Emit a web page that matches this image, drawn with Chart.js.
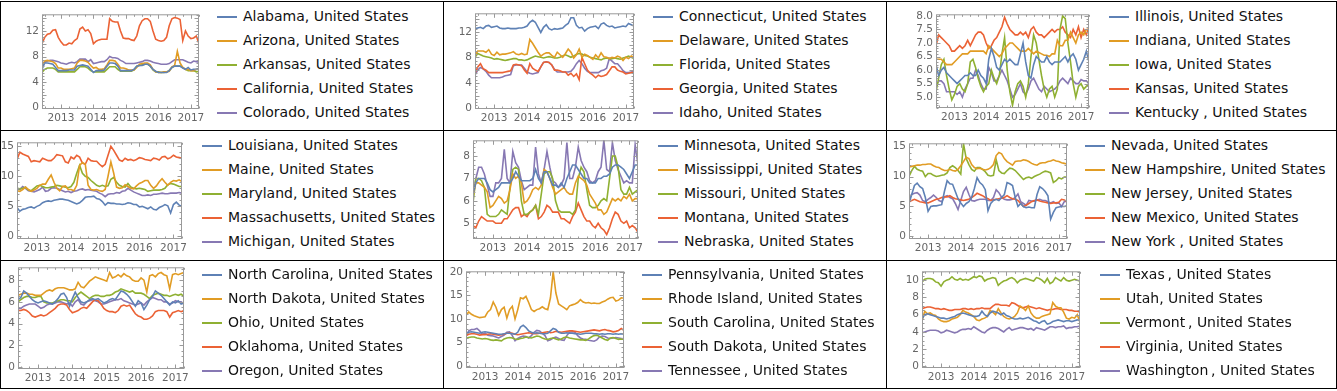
<!DOCTYPE html>
<html lang="en">
<head>
  <meta charset="UTF-8" />
  <title>State series</title>
  <script src="https://cdn.jsdelivr.net/npm/chart.js"></script>
  <style>
    html, body { margin: 0; padding: 0; background: #fff; }
    body { width: 1337px; height: 391px; position: relative; overflow: hidden; font-family: "DejaVu Sans", sans-serif; }
    .grid-line { position: absolute; background: #000; }
    canvas { position: absolute; }
    .key { position: absolute; height: 2px; width: 20px; }
    .lbl { position: absolute; font-size: 14px; line-height: 17px; white-space: nowrap; color: #111; }
  </style>
</head>
<body>
<div id="root"></div>
<script>
// monthly points, June 2012 .. April 2017
const months = [];
for (let i = 0; i < 59; i++) months.push(2012 + (5 + i) / 12);

const alabama = [6.0, 7.0, 7.0, 6.9, 6.8, 6.3, 5.8, 5.8, 5.8, 5.8,
  5.9, 5.9, 5.9, 6.5, 6.6, 6.7, 6.6, 6.5, 6.0, 5.5,
  5.8, 5.8, 5.8, 5.9, 6.5, 7.0, 7.0, 6.9, 6.5, 5.8,
  5.8, 5.8, 5.8, 5.8, 6.0, 6.5, 6.6, 6.6, 6.8, 6.8,
  6.5, 6.0, 5.7, 5.5, 5.5, 5.5, 5.5, 5.8, 6.3, 6.5,
  6.5, 6.5, 6.2, 6.0, 6.3, 5.9, 6.0, 6.0, 6.1];
const arizona = [6.3, 7.3, 7.4, 7.3, 7.2, 6.9, 6.2, 6.2, 6.0, 6.0,
  6.0, 6.1, 6.2, 7.0, 7.4, 7.4, 7.3, 7.1, 6.6, 6.2,
  6.3, 6.0, 6.0, 6.1, 6.7, 7.4, 7.4, 7.3, 6.8, 6.2,
  6.2, 6.1, 5.9, 5.9, 5.9, 6.3, 6.8, 6.9, 7.0, 7.0,
  6.7, 6.0, 5.6, 5.5, 5.5, 5.6, 5.6, 5.7, 6.4, 6.6,
  8.8, 7.0, 6.3, 6.0, 6.0, 5.8, 5.8, 6.0, 6.1];
const arkansas = [5.5, 6.0, 6.2, 6.2, 6.2, 6.0, 5.6, 5.6, 5.6, 5.6,
  5.6, 5.6, 5.6, 6.0, 6.4, 6.4, 6.4, 6.2, 5.8, 5.6,
  5.6, 5.6, 5.6, 5.6, 6.0, 6.4, 6.4, 6.4, 6.0, 5.7,
  5.7, 5.7, 5.7, 5.7, 5.9, 6.5, 6.6, 6.7, 6.8, 6.8,
  6.5, 5.9, 5.6, 5.6, 5.5, 5.5, 5.6, 5.8, 6.3, 6.5,
  6.5, 6.5, 6.3, 6.0, 5.8, 5.8, 5.8, 5.6, 5.7];
const california = [10.0, 11.0, 11.5, 11.6, 12.1, 12.2, 11.0, 10.3, 9.8, 9.8,
  10.1, 10.0, 10.5, 10.8, 12.3, 12.6, 12.0, 12.2, 11.6, 10.0,
  10.4, 10.6, 10.7, 10.7, 10.7, 13.9, 13.5, 13.4, 13.4, 12.0,
  10.9, 10.8, 10.8, 10.6, 10.5, 11.2, 12.8, 13.6, 13.9, 13.9,
  13.5, 12.0, 10.7, 10.5, 10.4, 10.5, 11.0, 12.8, 13.9, 14.1,
  14.0, 13.8, 10.5, 12.0, 11.2, 10.8, 10.9, 11.2, 10.0];
const colorado = [7.0, 7.1, 7.3, 7.4, 7.4, 7.3, 7.2, 7.0, 6.9, 6.8,
  7.0, 7.1, 7.0, 7.2, 7.6, 7.6, 7.6, 7.2, 7.5, 6.9,
  7.0, 7.1, 7.2, 7.2, 7.5, 8.0, 7.8, 7.8, 7.7, 7.4,
  7.2, 6.9, 6.9, 6.9, 6.9, 7.0, 7.1, 7.2, 7.4, 7.4,
  7.3, 7.1, 7.0, 6.9, 6.8, 6.8, 6.8, 6.9, 7.2, 7.5,
  7.5, 7.5, 7.5, 7.3, 7.1, 7.0, 7.3, 7.2, 7.1];

const connecticut = [12.5, 12.6, 12.7, 12.5, 12.9, 13.0, 12.7, 12.8, 12.9, 12.6,
  12.5, 12.5, 12.6, 12.5, 12.5, 12.5, 12.6, 12.6, 12.7, 12.9,
  13.5, 13.8, 13.5, 12.7, 11.9, 12.7, 13.1, 12.5, 12.3, 12.5,
  12.4, 12.5, 12.6, 13.0, 13.3, 14.2, 14.2, 13.0, 12.6, 12.7,
  12.1, 12.5, 12.7, 12.8, 12.9, 12.5, 13.2, 13.4, 13.0, 12.8,
  12.9, 12.6, 12.7, 12.8, 12.9, 12.8, 13.3, 13.1, 12.9];
const delaware = [8.2, 9.0, 9.0, 9.0, 8.8, 9.2, 8.5, 8.3, 8.8, 8.4,
  8.5, 8.5, 8.6, 8.7, 8.9, 8.5, 8.4, 8.6, 8.4, 8.5,
  10.8, 10.2, 9.5, 8.8, 8.2, 8.5, 8.7, 8.7, 8.3, 8.0,
  8.8, 8.4, 8.0, 8.6, 9.3, 8.8, 7.9, 8.4, 9.3, 8.0,
  8.5, 8.3, 8.0, 7.7, 8.4, 7.9, 8.7, 8.1, 8.0, 7.8,
  8.0, 7.9, 8.2, 8.0, 7.5, 8.0, 7.8, 8.2, 8.0];
const florida = [8.0, 8.6, 8.4, 8.2, 8.1, 8.0, 7.9, 7.7, 7.8, 7.7,
  7.6, 7.5, 7.6, 7.7, 7.8, 7.8, 7.6, 7.6, 7.5, 7.6,
  7.8, 8.0, 8.2, 8.1, 8.0, 7.9, 8.0, 8.1, 8.0, 7.9,
  7.9, 8.0, 8.2, 8.4, 8.2, 8.0, 8.2, 8.5, 8.6, 8.5,
  8.3, 8.2, 8.0, 7.9, 7.8, 7.7, 7.6, 7.8, 7.9, 7.8,
  7.8, 7.9, 7.8, 7.7, 7.9, 8.0, 8.2, 8.0, 7.8];
const georgia = [5.5, 6.5, 7.0, 6.2, 6.0, 5.6, 5.6, 5.6, 5.6, 5.6,
  5.6, 5.7, 5.8, 5.9, 6.8, 6.9, 6.8, 6.7, 6.0, 5.5,
  7.0, 6.3, 6.0, 5.8, 6.5, 7.2, 7.3, 7.2, 6.8, 6.0,
  6.0, 5.9, 5.7, 5.7, 5.2, 5.5, 5.0, 5.4, 4.5, 8.0,
  7.0, 6.0, 5.5, 5.2, 4.8, 5.2, 5.0, 5.1, 5.3, 5.9,
  6.5, 6.5, 6.0, 5.8, 5.7, 5.4, 5.5, 5.6, 5.6];
const idaho = [5.2, 6.0, 6.4, 6.2, 5.8, 5.2, 4.8, 4.8, 4.8, 4.8,
  4.9, 5.1, 5.2, 5.3, 6.7, 6.8, 6.8, 6.8, 6.3, 5.7,
  5.5, 5.4, 5.5, 5.6, 6.5, 7.2, 7.3, 7.2, 6.8, 6.1,
  5.7, 5.7, 5.7, 5.7, 5.7, 5.8, 6.3, 7.0, 7.5, 7.0,
  6.3, 5.8, 5.6, 5.6, 5.6, 5.6, 5.9, 6.0, 6.3, 7.8,
  7.4, 7.0, 7.0, 6.5, 5.9, 5.6, 5.6, 5.7, 5.8];

const illinois = [6.2, 5.8, 6.0, 6.1, 5.9, 5.8, 5.7, 5.6, 5.5, 5.6,
  5.7, 5.8, 5.8, 5.9, 5.8, 5.8, 6.0, 5.8, 5.7, 5.5,
  6.4, 6.8, 6.5, 6.1, 6.0, 6.2, 6.4, 6.3, 6.4, 6.3,
  6.2, 6.2, 6.6, 7.0, 6.3, 5.8, 5.7, 6.2, 6.5, 6.4,
  6.3, 6.3, 6.5, 6.3, 6.2, 6.3, 6.3, 6.3, 6.4, 6.5,
  6.3, 6.5, 6.6, 6.4, 6.0, 6.2, 6.4, 6.7, 6.3];
const indiana = [6.4, 6.4, 6.4, 6.3, 6.2, 6.2, 6.2, 6.3, 6.4, 6.5,
  6.6, 6.6, 6.6, 6.7, 6.7, 6.7, 6.7, 6.7, 6.7, 6.6,
  6.9, 6.8, 6.7, 6.6, 6.5, 6.6, 6.8, 6.9, 7.0, 7.0,
  6.9, 6.8, 6.7, 6.7, 6.7, 6.8, 6.7, 6.6, 6.7, 6.65,
  6.6, 6.55, 6.55, 6.5, 6.6, 6.6, 7.1, 6.9, 6.9, 7.1,
  7.1, 7.4, 7.2, 7.0, 7.3, 7.4, 7.3, 7.5, 7.5];
const iowa = [5.2, 5.7, 6.2, 6.4, 5.8, 5.3, 4.9, 5.1, 5.4, 5.5,
  5.3, 5.2, 5.5, 6.3, 6.4, 6.1, 5.7, 5.4, 5.2, 5.4,
  5.5, 6.0, 5.7, 5.5, 5.8, 6.6, 7.2, 6.0, 5.2, 4.7,
  5.2, 5.5, 5.6, 5.4, 5.0, 5.5, 6.5, 7.3, 7.0, 6.4,
  5.8, 5.3, 5.0, 5.3, 5.4, 5.0, 5.3, 7.5, 8.0, 7.9,
  7.0, 6.3, 5.5, 5.0, 5.4, 5.5, 5.3, 5.4, 5.5];
const kansas = [6.9, 7.3, 7.2, 7.1, 7.0, 6.9, 6.7, 6.7, 6.8, 6.9,
  6.8, 6.9, 7.1, 6.9, 7.1, 7.3, 7.4, 7.4, 7.3, 7.0,
  6.8, 6.9, 7.1, 7.2, 7.4, 7.6, 7.95, 7.7, 7.5, 7.4,
  7.3, 7.3, 7.4, 7.3, 7.4, 7.2, 7.5, 7.6, 7.4, 7.3,
  7.3, 7.2, 7.3, 7.4, 7.5, 7.4, 7.5, 7.5, 7.6, 7.4,
  7.3, 7.2, 7.5, 7.3, 7.6, 7.2, 7.5, 7.3, 7.6];
const kentucky = [5.4, 5.6, 5.6, 5.5, 5.2, 5.2, 5.2, 5.2, 5.1, 5.2,
  5.0, 5.3, 5.5, 5.7, 5.7, 6.0, 5.8, 5.5, 5.3, 5.3,
  6.1, 5.9, 5.6, 5.6, 5.8, 6.0, 5.8, 5.6, 5.3, 5.0,
  5.1, 5.3, 5.5, 5.2, 5.1, 5.3, 5.6, 5.7, 5.5, 5.3,
  5.2, 5.4, 5.3, 5.2, 5.25, 5.3, 5.4, 5.6, 5.7, 5.6,
  5.5, 5.7, 5.6, 5.5, 5.5, 5.65, 5.6, 5.6, 5.5];

const louisiana = [4.8, 4.2, 4.5, 4.6, 4.8, 4.9, 4.7, 5.0, 5.2, 5.6,
  5.8, 5.9, 5.8, 6.0, 6.1, 6.2, 6.2, 6.1, 6.0, 5.8,
  5.6, 5.4, 5.6, 6.0, 6.5, 6.6, 6.6, 6.7, 6.3, 6.2,
  5.8, 5.2, 5.6, 5.5, 5.5, 5.4, 5.4, 5.3, 5.4, 5.6,
  5.5, 5.3, 5.3, 4.9, 5.0, 4.8, 4.6, 4.9, 4.5, 4.4,
  4.8, 5.0, 5.3, 5.1, 3.9, 5.3, 5.7, 5.2, 5.0];
const maine = [7.6, 7.5, 7.8, 8.2, 7.8, 7.5, 7.7, 8.0, 8.5, 8.7,
  8.7, 9.5, 10.2, 9.0, 8.0, 7.6, 8.3, 8.4, 7.8, 7.8,
  7.6, 8.5, 11.8, 12.3, 12.0, 8.5, 7.8, 7.7, 7.8, 7.6,
  7.5, 7.8, 10.0, 12.4, 10.5, 8.2, 8.0, 8.1, 8.6, 8.3,
  8.0, 7.9, 8.4, 8.8, 9.0, 9.3, 9.3, 8.5, 8.0, 8.4,
  9.1, 9.6, 9.0, 8.5, 9.0, 9.3, 9.2, 9.4, 9.1];
const maryland = [8.0, 7.9, 8.0, 8.2, 7.7, 7.6, 8.0, 8.4, 8.5, 8.3,
  8.1, 8.1, 8.2, 8.3, 8.5, 8.4, 8.3, 8.2, 8.1, 8.3,
  9.0, 10.5, 11.8, 10.5, 10.0, 9.8, 9.3, 8.9, 8.5, 8.3,
  8.5, 8.3, 8.4, 9.5, 9.8, 9.0, 8.5, 8.3, 8.2, 8.8,
  8.2, 8.0, 7.9, 8.0, 7.9, 7.8, 7.5, 7.6, 7.7, 7.7,
  7.7, 7.8, 8.0, 8.6, 8.8, 8.7, 8.5, 8.3, 8.3];
const massachusetts = [12.8, 14.0, 13.7, 13.5, 13.3, 12.4, 12.6, 12.5, 12.4, 13.0,
  12.8, 12.6, 12.6, 13.0, 13.6, 13.5, 13.4, 12.4, 12.2, 13.2,
  12.9, 13.5, 13.2, 12.2, 12.0, 13.0, 12.6, 12.5, 12.5, 12.0,
  11.6, 12.0, 13.5, 15.0, 14.3, 13.5, 12.7, 12.5, 13.0, 12.7,
  12.8, 12.6, 12.8, 13.1, 13.0, 12.8, 12.7, 12.6, 13.0, 12.9,
  12.7, 13.2, 13.3, 12.9, 13.1, 13.5, 13.2, 13.1, 13.0];
const michigan = [8.0, 7.8, 8.3, 8.0, 7.6, 7.5, 7.4, 7.6, 7.8, 8.2,
  7.5, 7.6, 8.0, 8.1, 8.0, 7.8, 7.6, 7.4, 7.5, 7.3,
  7.5, 7.6, 7.8, 7.9, 7.7, 7.8, 7.7, 7.6, 7.5, 7.2,
  7.0, 6.6, 7.0, 7.1, 7.1, 7.3, 7.2, 7.5, 7.6, 8.0,
  7.7, 7.4, 7.2, 7.0, 6.8, 6.8, 6.9, 6.8, 7.0, 7.0,
  7.1, 7.2, 7.1, 7.1, 7.2, 7.2, 7.2, 7.3, 7.2];

const minnesota = [6.3, 6.8, 7.0, 7.0, 7.0, 6.8, 6.5, 6.4, 6.5, 6.6,
  6.8, 6.8, 6.8, 6.8, 7.0, 7.3, 7.1, 6.9, 6.9, 6.9,
  6.9, 7.0, 7.4, 7.0, 6.8, 7.3, 7.3, 7.0, 6.7, 6.7,
  6.6, 6.8, 6.6, 7.0, 7.3, 7.6, 7.6, 7.4, 7.2, 7.0,
  7.0, 6.8, 6.8, 6.8, 7.0, 7.0, 7.1, 7.1, 7.2, 7.5,
  7.6, 7.6, 7.5, 7.4, 7.2, 7.0, 7.3, 7.6, 7.6];
const mississippi = [6.2, 6.8, 6.8, 6.7, 6.6, 6.4, 5.7, 5.8, 6.0, 6.2,
  6.1, 5.9, 6.0, 6.5, 7.2, 7.0, 7.1, 6.8, 5.9, 6.0,
  6.2, 6.5, 6.6, 6.5, 6.7, 7.4, 7.3, 7.0, 6.6, 6.3,
  6.4, 6.5, 6.6, 6.4, 6.3, 6.3, 6.8, 7.1, 7.0, 6.9,
  6.7, 6.3, 6.1, 5.9, 5.6, 5.6, 5.4, 5.5, 5.8, 6.1,
  6.0, 6.1, 6.0, 6.2, 6.1, 6.3, 6.0, 6.1, 6.1];
const missouri = [5.9, 7.0, 7.0, 6.9, 6.6, 5.4, 5.3, 5.3, 5.3, 5.4,
  5.6, 5.5, 5.4, 6.6, 7.4, 7.5, 7.4, 6.0, 5.4, 5.4,
  5.5, 5.6, 5.8, 5.4, 6.3, 7.2, 7.3, 7.3, 7.0, 6.0,
  5.6, 5.5, 5.5, 5.5, 5.5, 5.4, 5.6, 7.0, 7.5, 7.3,
  6.5, 5.8, 5.7, 5.7, 5.8, 6.0, 6.1, 6.0, 7.0, 8.0,
  8.0, 7.5, 6.5, 6.3, 6.3, 6.6, 6.3, 6.4, 6.5];
const montana = [4.9, 4.8, 5.1, 5.3, 5.2, 5.1, 5.1, 5.1, 5.0, 5.0,
  5.0, 5.2, 5.2, 5.4, 5.6, 5.7, 5.7, 5.3, 5.4, 5.3,
  5.5, 5.6, 5.8, 5.2, 5.3, 5.5, 5.8, 5.7, 5.5, 5.5,
  5.5, 5.2, 5.2, 5.1, 5.0, 5.3, 5.5, 5.9, 5.6, 5.3,
  5.1, 5.1, 4.9, 4.8, 5.0, 4.8, 4.7, 4.5, 4.8, 5.2,
  5.5, 5.4, 5.1, 5.0, 5.1, 4.8, 4.9, 4.8, 4.6];
const nebraska = [6.3, 7.0, 7.5, 7.5, 7.2, 6.7, 6.2, 6.2, 6.8, 6.8,
  7.0, 8.3, 7.0, 6.8, 8.2, 7.7, 7.5, 6.9, 6.5, 6.6,
  6.7, 6.7, 8.4, 7.2, 6.8, 7.4, 8.2, 7.5, 6.9, 6.8,
  6.6, 6.7, 7.0, 8.6, 7.0, 7.0, 7.5, 8.4, 7.8, 7.5,
  7.3, 6.9, 6.8, 6.9, 7.3, 7.5, 8.7, 7.4, 7.3, 8.6,
  7.8, 7.4, 7.1, 6.8, 6.9, 6.8, 6.8, 8.5, 7.6];

const nevada = [5.5, 7.0, 8.5, 8.9, 8.3, 8.0, 6.5, 4.2, 5.0, 5.1,
  5.1, 5.2, 5.3, 7.5, 9.3, 8.8, 8.7, 7.5, 6.3, 5.6,
  5.0, 5.5, 5.8, 6.5, 8.0, 9.8, 9.0, 8.6, 7.8, 4.3,
  5.5, 6.0, 6.2, 6.0, 6.5, 7.0, 9.0, 8.8, 8.5, 6.5,
  5.0, 5.5, 5.0, 4.8, 4.9, 4.8, 4.8, 7.0, 8.3, 8.0,
  7.5, 6.8, 2.9, 4.0, 4.8, 4.9, 5.0, 5.0, 5.1];
const newHampshire = [11.6, 11.7, 11.8, 11.9, 11.9, 12.0, 12.0, 12.1, 12.1, 11.8,
  11.6, 11.5, 11.2, 11.0, 11.0, 11.2, 11.0, 10.9, 11.2, 11.8,
  12.5, 13.2, 13.0, 12.0, 11.5, 11.3, 11.4, 11.2, 11.1, 11.2,
  11.5, 12.0, 13.5, 14.0, 13.8, 13.0, 12.5, 12.2, 11.9, 12.5,
  12.6, 12.6, 12.8, 12.7, 12.5, 12.2, 12.0, 11.9, 12.2, 12.3,
  12.3, 12.5, 12.6, 12.8, 12.6, 12.5, 12.3, 12.2, 12.1];
const newJersey = [10.0, 11.0, 11.7, 11.2, 11.0, 10.9, 10.0, 10.5, 10.5, 10.2,
  10.0, 10.1, 10.2, 10.3, 10.6, 11.5, 11.8, 11.5, 11.0, 10.4,
  15.5, 13.0, 12.0, 11.2, 10.9, 11.5, 11.5, 11.2, 10.8, 10.2,
  10.1, 10.2, 12.8, 11.0, 10.6, 10.5, 11.0, 11.4, 11.3, 11.0,
  10.5, 10.0, 9.5, 9.8, 9.9, 9.7, 10.0, 10.2, 10.4, 10.7,
  10.9, 10.8, 10.6, 9.0, 9.3, 9.8, 9.6, 9.9, 9.9];
const newMexico = [5.8, 6.0, 6.2, 6.0, 5.8, 5.7, 5.6, 5.6, 5.8, 6.0,
  6.2, 6.3, 6.5, 6.6, 6.6, 6.8, 6.5, 6.3, 6.2, 6.1,
  6.0, 6.1, 6.2, 6.5, 6.8, 7.2, 7.0, 6.8, 6.5, 6.3,
  6.0, 6.1, 6.2, 6.3, 6.4, 6.5, 6.8, 6.5, 6.3, 6.2,
  6.0, 5.5, 5.0, 5.2, 5.5, 5.8, 6.0, 6.1, 5.9, 5.8,
  5.7, 5.6, 5.5, 5.6, 5.6, 5.7, 6.2, 6.1, 5.8];
const newYork = [6.5, 7.0, 7.2, 7.3, 6.9, 6.0, 5.8, 6.2, 6.5, 6.9,
  6.5, 6.0, 5.8, 6.6, 6.8, 6.5, 6.3, 5.5, 4.5, 6.0,
  7.5, 8.2, 7.0, 6.0, 5.9, 6.1, 6.2, 6.2, 6.2, 6.0,
  6.0, 6.5, 7.8, 7.3, 6.5, 6.2, 6.1, 6.1, 6.2, 6.5,
  7.1, 5.8, 5.5, 5.2, 6.0, 5.9, 5.9, 6.1, 6.2, 6.0,
  6.0, 5.8, 5.6, 5.8, 5.5, 5.6, 5.0, 5.8, 5.9];

const northCarolina = [6.2, 6.4, 7.0, 6.8, 6.5, 6.2, 6.0, 5.9, 6.0, 6.1,
  6.0, 5.9, 5.8, 6.0, 6.3, 6.7, 6.8, 6.4, 5.6, 6.3,
  6.9, 6.4, 6.0, 5.9, 6.0, 6.2, 6.3, 6.2, 6.3, 6.1,
  5.9, 6.0, 6.2, 6.3, 6.2, 6.6, 7.0, 6.9, 6.7, 6.4,
  6.0, 5.6, 6.1, 5.9, 5.3, 5.7, 6.2, 6.5, 7.0, 6.8,
  6.6, 6.3, 6.0, 5.7, 6.0, 5.9, 6.1, 5.8, 5.9];
const northDakota = [6.6, 6.7, 6.8, 6.8, 6.7, 6.7, 6.6, 6.6, 6.6, 6.8,
  7.0, 7.1, 7.0, 7.2, 7.3, 7.3, 7.3, 7.2, 7.1, 7.1,
  7.2, 7.8, 7.4, 7.3, 7.6, 7.9, 8.1, 8.3, 8.2, 8.1,
  8.0, 7.9, 8.7, 8.2, 8.3, 8.5, 8.3, 8.6, 8.4, 8.3,
  8.0, 7.9, 7.9, 8.2, 8.0, 6.9, 8.4, 8.5, 8.3, 8.6,
  8.7, 8.5, 8.4, 7.2, 8.5, 8.6, 8.5, 8.6, 8.7];
const ohio = [6.0, 6.2, 6.4, 6.5, 6.5, 6.4, 6.4, 6.5, 6.5, 6.0,
  5.9, 5.9, 5.9, 6.0, 6.1, 6.2, 6.2, 6.1, 6.1, 6.0,
  6.4, 6.7, 6.9, 6.7, 6.5, 6.3, 6.5, 6.6, 6.6, 6.5,
  6.5, 6.6, 6.6, 6.7, 6.9, 7.0, 7.2, 7.1, 7.0, 6.9,
  7.0, 6.8, 6.8, 6.8, 6.7, 6.5, 6.3, 6.6, 6.7, 6.8,
  6.7, 6.6, 6.6, 6.5, 6.6, 6.7, 6.6, 6.7, 6.5];
const oklahoma = [5.2, 5.2, 5.3, 5.2, 5.0, 4.7, 4.6, 4.7, 4.8, 4.7,
  4.8, 5.0, 5.2, 5.4, 5.7, 5.8, 5.8, 5.7, 5.3, 5.0,
  5.1, 5.2, 5.4, 5.5, 5.4, 5.7, 6.0, 6.2, 6.1, 5.8,
  5.4, 5.2, 5.1, 5.1, 5.0, 5.2, 5.6, 5.7, 5.6, 5.7,
  5.3, 4.9, 4.7, 4.6, 4.4, 4.4, 4.5, 4.7, 5.1, 5.2,
  5.2, 5.2, 5.1, 4.6, 5.0, 5.1, 5.2, 5.1, 5.2];
const oregon = [5.4, 5.4, 5.6, 5.7, 5.8, 5.8, 5.8, 5.6, 5.4, 5.5,
  5.7, 5.8, 5.8, 5.9, 6.0, 6.0, 5.9, 5.8, 5.9, 5.6,
  6.0, 6.2, 5.8, 5.7, 6.0, 6.1, 6.2, 6.1, 6.0, 5.8,
  5.8, 5.9, 6.0, 6.1, 6.2, 6.2, 6.3, 6.1, 6.0, 5.9,
  5.8, 5.7, 5.8, 5.9, 5.7, 6.0, 6.2, 6.4, 6.3, 6.2,
  6.2, 6.0, 6.0, 5.8, 5.9, 6.1, 6.0, 6.0, 5.8];

const pennsylvania = [7.0, 7.2, 7.3, 7.2, 7.1, 7.0, 7.2, 7.3, 7.2, 7.1,
  7.0, 6.9, 6.8, 6.8, 6.9, 7.0, 7.0, 6.9, 6.8, 7.2,
  8.3, 8.7, 8.2, 7.5, 7.2, 7.0, 7.1, 7.0, 6.9, 6.9,
  7.0, 7.5, 8.0, 7.8, 7.2, 7.0, 7.0, 7.1, 7.0, 7.0,
  6.9, 6.9, 6.8, 6.9, 7.0, 7.0, 7.0, 6.9, 6.9, 6.8,
  6.9, 6.8, 6.9, 6.9, 6.8, 6.9, 6.8, 6.9, 6.8];
const rhodeIsland = [10.8, 11.5, 11.0, 10.7, 10.5, 10.3, 10.4, 10.5, 11.5, 12.0,
  13.6, 12.5, 10.8, 12.0, 12.5, 10.2, 12.0, 12.7, 10.0, 12.0,
  14.5, 14.3, 14.8, 13.5, 12.0, 11.6, 12.0, 12.2, 12.6, 12.2,
  12.0, 14.5, 20.0, 15.5, 13.2, 12.8, 12.4, 12.0, 12.8, 13.0,
  13.2, 13.5, 14.1, 13.6, 13.4, 13.5, 13.3, 13.4, 13.3, 13.3,
  13.6, 13.8, 14.2, 14.5, 14.6, 13.8, 14.0, 14.5, 14.4];
const southCarolina = [5.9, 6.1, 6.2, 6.2, 6.0, 5.9, 5.8, 5.9, 5.8, 5.6,
  5.5, 5.6, 5.5, 5.4, 5.8, 6.0, 6.1, 6.0, 5.8, 5.7,
  5.9, 6.0, 6.2, 6.1, 6.0, 6.2, 6.4, 6.3, 6.0, 5.8,
  5.7, 5.9, 6.0, 5.8, 5.6, 5.8, 6.1, 6.2, 6.0, 5.9,
  5.8, 5.7, 5.6, 5.6, 5.5, 5.8, 6.2, 6.5, 6.6, 6.3,
  6.0, 5.7, 5.5, 6.0, 6.1, 5.9, 5.7, 5.8, 5.7];
const southDakota = [6.5, 6.8, 6.9, 6.9, 6.8, 6.6, 6.7, 6.7, 6.8, 6.9,
  6.8, 6.7, 6.6, 6.7, 6.8, 7.0, 7.1, 7.0, 6.8, 6.7,
  6.8, 6.9, 7.0, 7.1, 7.0, 6.9, 6.9, 7.0, 7.1, 7.2,
  7.3, 7.1, 7.2, 7.4, 7.3, 7.2, 7.3, 7.4, 7.5, 7.5,
  7.4, 7.3, 7.2, 7.3, 7.4, 7.5, 7.6, 7.7, 7.6, 7.5,
  7.7, 7.8, 7.6, 7.5, 7.3, 7.4, 7.6, 8.0, 7.6];
const tennessee = [6.2, 7.5, 7.8, 7.8, 8.0, 7.5, 6.8, 7.0, 6.6, 6.5,
  6.4, 6.2, 6.0, 6.3, 6.6, 7.2, 7.3, 6.5, 5.4, 5.9,
  6.2, 6.4, 6.3, 6.0, 6.5, 7.2, 7.6, 7.5, 7.0, 6.5,
  5.4, 5.6, 6.0, 6.2, 5.9, 5.6, 5.5, 6.5, 7.2, 7.3,
  7.2, 6.5, 6.0, 5.8, 5.7, 5.5, 5.4, 5.3, 5.6, 6.2,
  6.4, 6.3, 6.0, 5.9, 6.0, 6.1, 6.0, 5.9, 5.8];

const texas = [5.5, 6.0, 6.1, 6.0, 5.9, 5.8, 5.7, 5.6, 5.6, 5.5,
  5.6, 5.7, 5.8, 6.0, 6.1, 6.2, 6.1, 6.0, 5.9, 5.8,
  5.8, 5.9, 6.4, 6.0, 5.8, 6.2, 6.4, 6.3, 6.2, 6.0,
  6.2, 5.9, 5.8, 5.6, 5.5, 5.5, 5.6, 5.5, 5.6, 5.7,
  5.5, 5.3, 5.2, 5.0, 5.2, 5.3, 4.9, 5.0, 5.2, 5.3,
  5.4, 5.3, 5.2, 5.3, 5.3, 5.2, 5.3, 5.4, 5.4];
const utah = [5.3, 6.4, 6.1, 6.2, 6.0, 5.9, 5.5, 5.3, 5.2, 5.2,
  5.3, 5.5, 5.6, 5.7, 6.0, 6.5, 6.3, 6.2, 6.0, 5.8,
  5.4, 5.3, 5.5, 5.6, 5.8, 6.5, 6.3, 6.0, 6.7, 6.2,
  5.8, 5.6, 5.5, 5.6, 5.8, 6.2, 7.0, 6.8, 6.5, 7.0,
  6.2, 5.8, 5.6, 5.6, 5.8, 5.9, 6.0, 6.1, 7.4, 7.0,
  6.8, 6.8, 6.3, 5.6, 5.5, 5.7, 5.6, 6.0, 5.1];
const vermont = [9.8, 10.1, 10.2, 10.2, 10.1, 9.8, 9.7, 9.3, 9.8, 10.0,
  10.1, 10.4, 10.1, 10.0, 10.2, 10.0, 10.1, 10.0, 10.2, 10.4,
  10.3, 10.5, 10.4, 9.9, 10.1, 10.2, 10.3, 10.2, 9.4, 9.7,
  9.9, 10.0, 10.2, 10.3, 10.1, 9.7, 10.0, 10.1, 10.2, 10.1,
  10.0, 9.9, 10.3, 10.2, 10.0, 9.7, 10.2, 9.6, 9.8, 10.3,
  10.1, 9.9, 10.3, 10.0, 9.9, 10.0, 10.1, 10.0, 9.9];
const virginia = [6.7, 6.8, 6.9, 6.9, 6.8, 6.7, 6.7, 6.6, 6.7, 6.6,
  6.5, 6.5, 6.6, 6.6, 6.6, 6.7, 6.7, 6.6, 6.7, 6.6,
  6.7, 6.7, 6.8, 6.7, 6.7, 6.7, 7.0, 7.2, 7.2, 7.1,
  7.1, 7.1, 7.0, 7.4, 7.3, 7.1, 6.9, 6.8, 6.9, 7.0,
  6.9, 6.8, 6.7, 6.8, 6.7, 6.6, 6.5, 6.6, 6.6, 6.7,
  6.7, 6.6, 6.6, 6.6, 6.5, 6.5, 6.4, 6.4, 6.3];
const washington = [3.9, 4.0, 4.1, 4.2, 4.2, 4.2, 4.1, 3.9, 4.0, 4.2,
  4.1, 4.0, 3.9, 4.0, 4.2, 4.3, 4.3, 4.4, 4.3, 4.6,
  4.4, 4.2, 4.0, 3.9, 4.2, 4.4, 4.5, 4.5, 4.4, 4.2,
  4.0, 4.3, 4.5, 4.2, 4.3, 4.4, 4.5, 4.5, 4.4, 4.3,
  4.4, 4.2, 4.5, 4.4, 4.3, 4.2, 4.4, 4.6, 4.6, 4.5,
  4.6, 4.6, 4.7, 4.4, 4.5, 4.5, 4.6, 4.6, 4.7];

const panels = [
  { names: ['Alabama, United States', 'Arizona, United States', 'Arkansas, United States', 'California, United States', 'Colorado, United States'],
    series: [alabama, arizona, arkansas, california, colorado], yMin: -0.2, yMax: 14.6, yStep: 2 },
  { names: ['Connecticut, United States', 'Delaware, United States', 'Florida, United States', 'Georgia, United States', 'Idaho, United States'],
    series: [connecticut, delaware, florida, georgia, idaho], yMin: -0.1, yMax: 14.9, yStep: 2 },
  { names: ['Illinois, United States', 'Indiana, United States', 'Iowa, United States', 'Kansas, United States', 'Kentucky , United States'],
    series: [illinois, indiana, iowa, kansas, kentucky], yMin: 4.6, yMax: 8.06, yStep: 0.5 },
  { names: ['Louisiana, United States', 'Maine, United States', 'Maryland, United States', 'Massachusetts, United States', 'Michigan, United States'],
    series: [louisiana, maine, maryland, massachusetts, michigan], yMin: -0.43, yMax: 15.65, yStep: 5 },
  { names: ['Minnesota, United States', 'Mississippi, United States', 'Missouri, United States', 'Montana, United States', 'Nebraska, United States'],
    series: [minnesota, mississippi, missouri, montana, nebraska], yMin: 4.3, yMax: 8.7, yStep: 1 },
  { names: ['Nevada, United States', 'New Hampshire, United States', 'New Jersey, United States', 'New Mexico, United States', 'New York , United States'],
    series: [nevada, newHampshire, newJersey, newMexico, newYork], yMin: -0.43, yMax: 15.55, yStep: 5 },
  { names: ['North Carolina, United States', 'North Dakota, United States', 'Ohio, United States', 'Oklahoma, United States', 'Oregon, United States'],
    series: [northCarolina, northDakota, ohio, oklahoma, oregon], yMin: -0.18, yMax: 9.18, yStep: 2 },
  { names: ['Pennsylvania, United States', 'Rhode Island, United States', 'South Carolina, United States', 'South Dakota, United States', 'Tennessee\u2009, United States'],
    series: [pennsylvania, rhodeIsland, southCarolina, southDakota, tennessee], yMin: -0.35, yMax: 20.1, yStep: 5 },
  { names: ['Texas\u2009, United States', 'Utah, United States', 'Vermont\u2009, United States', 'Virginia, United States', 'Washington\u2009, United States'],
    series: [texas, utah, vermont, virginia, washington], yMin: -0.18, yMax: 11.03, yStep: 2 }
];

// page layout: plot frame (left, right, top, bottom) and legend text x per panel
const frames = [
  [42, 199, 13, 109], [475, 634, 12, 109], [936, 1089, 13, 108],
  [17, 182, 141, 239], [473, 638, 139, 239], [909, 1067, 142, 239],
  [18, 184, 266, 369], [466, 624, 270, 368], [922, 1080, 270, 368]
];
const legendX = [243, 679, 1135, 228, 684, 1111, 228, 668, 1126];
const legendRowY = [[17, 41, 65, 89, 113], [146, 170, 194, 218, 242], [275, 299, 323, 347, 371]];

const palette = ['#5e81b5', '#e19c24', '#8fb032', '#eb6235', '#8778b3'];
const frameColor = '#9a9a9a';
const tickFont = { family: 'DejaVu Sans', size: 10.5 };
const tickColor = '#666';

const root = document.getElementById('root');

// cell borders
[[0, 1, 1337, 1], [0, 388, 1337, 1], [0, 1, 1, 388], [1336, 1, 1, 388],
 [0, 130, 1337, 1], [0, 260, 1337, 1], [443, 1, 1, 388], [886, 1, 1, 388]].forEach(([x, y, w, h]) => {
  const d = document.createElement('div');
  d.className = 'grid-line';
  Object.assign(d.style, { left: x + 'px', top: y + 'px', width: w + 'px', height: h + 'px' });
  root.appendChild(d);
});

// frame with inward ticks, the way the original plots are boxed
const framePlugin = {
  id: 'frameTicks',
  afterDatasetsDraw(chart, args, opts) {
    const { ctx, chartArea: a, scales: { x, y } } = chart;
    const l = a.left + 0.5, r = a.right - 0.5, t = a.top + 0.5, b = a.bottom - 0.5;
    ctx.save();
    ctx.strokeStyle = frameColor;
    ctx.lineWidth = 1;
    ctx.strokeRect(l, t, r - l, b - t);
    ctx.beginPath();
    const xt = (v, len) => {
      const px = Math.round(x.getPixelForValue(v)) + 0.5;
      ctx.moveTo(px, b); ctx.lineTo(px, b - len);
      ctx.moveTo(px, t); ctx.lineTo(px, t + len);
    };
    const yt = (v, len) => {
      const py = Math.round(y.getPixelForValue(v)) + 0.5;
      ctx.moveTo(l, py); ctx.lineTo(l + len, py);
      ctx.moveTo(r, py); ctx.lineTo(r - len, py);
    };
    for (let q = Math.ceil(x.min * 4) / 4; q <= x.max; q += 0.25) xt(q, Number.isInteger(q) ? 4 : 2);
    const step = opts.step;
    const minor = step / (step === 2 ? 4 : 5);
    const first = Math.ceil(y.min / minor - 1e-9);
    for (let k = first; k * minor <= y.max + 1e-9; k++) {
      const v = k * minor;
      const major = Math.abs(v / step - Math.round(v / step)) < 1e-6;
      yt(v, major ? 4 : 2);
    }
    ctx.stroke();
    ctx.restore();
  }
};

const AXW = 40, PADT = 8, PADR = 18, AXH = 22;

panels.forEach((p, n) => {
  const [l, r, t, b] = frames[n];
  const cv = document.createElement('canvas');
  const w = (r - l) + AXW + PADR, h = (b - t) + PADT + AXH;
  cv.width = w; cv.height = h;
  Object.assign(cv.style, { left: (l - AXW) + 'px', top: (t - PADT) + 'px', width: w + 'px', height: h + 'px' });
  root.appendChild(cv);

  new Chart(cv, {
    type: 'line',
    data: {
      datasets: p.series.map((s, k) => ({
        label: p.names[k],
        data: s.map((v, i) => ({ x: months[i], y: v })),
        borderColor: palette[k],
        backgroundColor: palette[k],
        borderWidth: 1.6,
        pointRadius: 0,
        tension: 0
      }))
    },
    options: {
      responsive: false,
      animation: false,
      events: [],
      layout: { autoPadding: false, padding: { top: PADT, right: PADR, left: 0, bottom: 0 } },
      plugins: { legend: { display: false }, tooltip: { enabled: false }, frameTicks: { step: p.yStep } },
      scales: {
        x: {
          type: 'linear', min: months[0], max: months[months.length - 1],
          grid: { display: false, drawTicks: false }, border: { display: false },
          afterFit: s => { s.height = AXH; },
          ticks: { stepSize: 1, includeBounds: false, autoSkip: false, maxRotation: 0, padding: 3,
                   color: tickColor, font: tickFont, callback: v => String(v) }
        },
        y: {
          min: p.yMin, max: p.yMax,
          grid: { display: false, drawTicks: false }, border: { display: false },
          afterFit: s => { s.width = AXW; },
          ticks: { stepSize: p.yStep, includeBounds: false, padding: 3, color: tickColor, font: tickFont,
                   callback: v => p.yStep < 1 ? v.toFixed(1) : String(Math.round(v)) }
        }
      }
    },
    plugins: [framePlugin]
  });

  // legend next to the plot
  const rows = legendRowY[Math.floor(n / 3)];
  p.names.forEach((name, k) => {
    const key = document.createElement('div');
    key.className = 'key';
    Object.assign(key.style, { left: (legendX[n] - 26) + 'px', top: (rows[k] - 1) + 'px', background: palette[k] });
    root.appendChild(key);
    const lbl = document.createElement('div');
    lbl.className = 'lbl';
    lbl.textContent = name;
    Object.assign(lbl.style, { left: legendX[n] + 'px', top: (rows[k] - 9) + 'px' });
    root.appendChild(lbl);
  });
});
</script>
</body>
</html>
